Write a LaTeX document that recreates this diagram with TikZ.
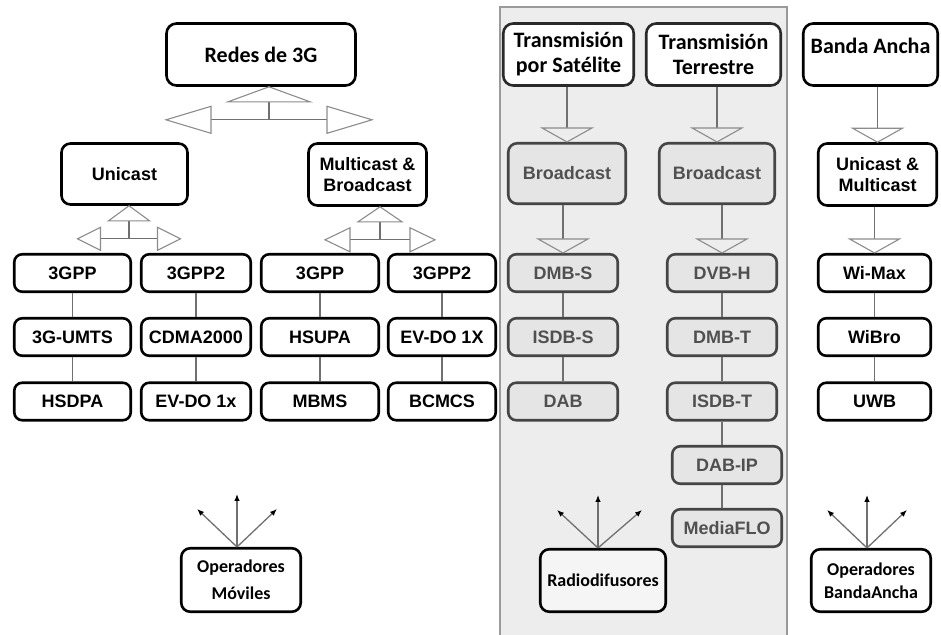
\documentclass[tikz,border=0pt]{standalone}
\usepackage{fontspec}
\newfontfamily\lsans{Liberation Sans}
\newfontfamily\carl{Carlito}
\usetikzlibrary{calc,arrows.meta}
\definecolor{panelgray}{HTML}{EDEDED}
\definecolor{panelline}{HTML}{9A9A9A}
\definecolor{boxgray}{HTML}{E5E5E5}
\definecolor{gborder}{HTML}{454545}
\definecolor{gtext}{HTML}{505050}
\definecolor{linegray}{HTML}{707070}
\definecolor{trigray}{HTML}{8C8C8C}
\definecolor{tborder}{HTML}{2A2A2A}

\newcommand{\splitter}[6]{%
  \coordinate (#1-a) at ($(#1.south)+(#2,0)$);
  \draw[conn] ($(#1-a)+(0,15)$) -- ++(0,18);
  \draw[conn] ($(#1-a)+(-#4,33)$) -- ++(2*#4,0);
  \draw[tri] (#1-a) -- ++(-#3,15) -- ++(2*#3,0) -- cycle;
  \draw[tri] ($(#1-a)+(-#4,33-#6)$) -- ++(0,2*#6) -- ++(-#5,-#6) -- cycle;
  \draw[tri] ($(#1-a)+(#4,33-#6)$) -- ++(0,2*#6) -- ++(#5,-#6) -- cycle;
}
\newcommand{\downtri}[3]{%
  \coordinate (#2-t) at (#2.north);
  \draw[conn] (#1.south -| #2-t) -- ($(#2-t)+(0,-14)$);
  \draw[tri, fill=#3] (#2-t) -- ++(-25,-14) -- ++(50,0) -- cycle;
}
\newcommand{\fan}[4]{%
  \coordinate (#1-o) at ($(#1.north)+(#2,0)$);
  \draw[fanarrow] (#1-o) -- ++(0,-53);
  \draw[fanarrow] (#1-o) -- ++(#3,-38);
  \draw[fanarrow] (#1-o) -- ++(#4,-38);
}

\begin{document}
\begin{tikzpicture}[x=1pt,y=-1pt,
  conn/.style={draw=linegray, line width=1.3pt},
  tri/.style={draw=trigray, line width=1.1pt, fill=white, line join=miter},
  fanarrow/.style={draw=linegray, line width=1.3pt, -{Latex[length=7pt,width=5.5pt,color=black]}},
  afont/.style={font=\lsans\bfseries\fontsize{18}{21.5}\selectfont},
  cfont/.style={font=\carl\bfseries\fontsize{22}{25}\selectfont},
  sfont/.style={font=\carl\bfseries\fontsize{18}{23}\selectfont},
  lbox/.style={draw=black, line width=2.6pt, rounded corners=8pt, fill=white,
               inner sep=0pt, align=center, afont},
  gbox/.style={draw=gborder, line width=2.6pt, rounded corners=8pt, fill=boxgray,
               text=gtext, inner sep=0pt, align=center, afont},
  tbox/.style={draw=tborder, line width=2.6pt, rounded corners=10pt, fill=white,
               inner sep=0pt, align=center, cfont},
  obox/.style={draw=black, line width=2.6pt, rounded corners=9pt, fill=white,
               inner sep=0pt, align=center, sfont},
  row/.style={minimum height=37.5pt},
  cA/.style={minimum width=116.5pt},
  cB/.style={minimum width=109.5pt},
  cC/.style={minimum width=117.5pt},
  cD/.style={minimum width=107.5pt},
  cS/.style={minimum width=109.5pt},
  cW/.style={minimum width=112.5pt}
]
\useasboundingbox (0,0) rectangle (941,634);

% shaded panel
\fill[panelgray] (500,7) rectangle (787,640);
\draw[panelline, line width=1.2pt] (500,640) -- (500,7) -- (787,7) -- (787,640);

% ---------- left: 3G networks ----------
\node[tbox, draw=black, minimum width=189pt, minimum height=62pt] (redes) at (261,54.5) {Redes de 3G};
\node[lbox, rounded corners=9pt, minimum width=126pt, minimum height=61pt] (uni) at (124.5,174) {Unicast};
\node[lbox, rounded corners=9pt, minimum width=118pt, minimum height=62pt] (mb) at (367.5,174.5) {Multicast \&\\Broadcast};

\node[lbox, cA, row] (a1) at (72.5,273) {3GPP};
\node[lbox, cA, row] (a2) at (72.5,337) {3G-UMTS};
\node[lbox, cA, row] (a3) at (72.5,401.5) {HSDPA};
\node[lbox, cB, row] (b1) at (196,273) {3GPP2};
\node[lbox, cB, row] (b2) at (196,337) {CDMA2000};
\node[lbox, cB, row] (b3) at (196,401.5) {EV-DO 1x};
\node[lbox, cC, row] (c1) at (320,273) {3GPP};
\node[lbox, cC, row] (c2) at (320,337) {HSUPA};
\node[lbox, cC, row] (c3) at (320,401.5) {MBMS};
\node[lbox, cD, row] (d1) at (442,273) {3GPP2};
\node[lbox, cD, row] (d2) at (442,337) {EV-DO 1X};
\node[lbox, cD, row] (d3) at (442,401.5) {BCMCS};

\foreach \k in {a,b,c,d}{
  \draw[conn] (\k1) -- (\k2);
  \draw[conn] (\k2) -- (\k3);
}

\splitter{redes}{8}{41}{58}{45}{13.5}
\splitter{uni}{4.5}{20.5}{28.5}{23}{11.5}
\splitter{mb}{12.5}{22}{30}{25}{12}

% ---------- middle: broadcast ----------
\node[tbox, minimum width=130.5pt, minimum height=62pt] (ts) at (568.5,54.5) {Transmisión\\por Satélite};
\node[tbox, minimum width=134.5pt, minimum height=62pt] (tt) at (713.5,54.5) {Transmisión\\Terrestre};
\node[gbox, rounded corners=9pt, minimum width=117.5pt, minimum height=60.5pt] (bs) at (567,173.5) {Broadcast};
\node[gbox, rounded corners=9pt, minimum width=115.5pt, minimum height=60.5pt] (bt) at (717,173.5) {Broadcast};

\node[gbox, cS, row] (s1) at (563,273) {DMB-S};
\node[gbox, cS, row] (s2) at (563,337) {ISDB-S};
\node[gbox, cS, row] (s3) at (563,401.5) {DAB};
\node[gbox, cS, row] (t1) at (722,273) {DVB-H};
\node[gbox, cS, row] (t2) at (722,337) {DMB-T};
\node[gbox, cS, row] (t3) at (722,401.5) {ISDB-T};
\node[gbox, cS, row] (t4) at (727,465) {DAB-IP};
\node[gbox, cS, row] (t5) at (727,528) {MediaFLO};

\draw[conn] (s1) -- (s2);
\draw[conn] (s2) -- (s3);
\draw[conn] (t1) -- (t2);
\draw[conn] (t2) -- (t3);
\draw[conn] (t3.south) -- (t3.south |- t4.north);
\draw[conn] (t4.south -| t3.south) -- (t3.south |- t5.north);

\downtri{ts}{bs}{panelgray}
\downtri{bs}{s1}{panelgray}
\downtri{tt}{bt}{panelgray}
\downtri{bt}{t1}{panelgray}

% ---------- right: broadband ----------
\node[tbox, draw=black, minimum width=134.5pt, minimum height=62pt, text height=15pt, text depth=18pt] (ba) at (870.5,54.5) {Banda Ancha};
\node[lbox, rounded corners=9pt, minimum width=118.5pt, minimum height=62pt] (um) at (877.5,174.5) {Unicast \&\\Multicast};
\node[lbox, cW, row] (w1) at (874.5,273) {Wi-Max};
\node[lbox, cW, row] (w2) at (874.5,337) {WiBro};
\node[lbox, cW, row] (w3) at (874.5,401.5) {UWB};
\draw[conn] (w1) -- (w2);
\draw[conn] (w2) -- (w3);
\downtri{ba}{um}{white}
\downtri{um}{w1}{white}

% ---------- operators ----------
\node[obox, font=\carl\bfseries\fontsize{18}{27}\selectfont, minimum width=119.5pt, minimum height=63.5pt] (opm) at (241,580) {Operadores\\Móviles};
\node[obox, fill=white!96!black, minimum width=125.5pt, minimum height=62.5pt] (radio) at (603,580.5) {Radiodifusores};
\node[obox, minimum width=119.5pt, minimum height=62.5pt] (opb) at (871,580.5) {Operadores\\BandaAncha};

\fan{opm}{-4}{-40}{40}
\fan{radio}{-5}{-41}{44}
\fan{opb}{-4}{-40}{40}
\end{tikzpicture}
\end{document}
